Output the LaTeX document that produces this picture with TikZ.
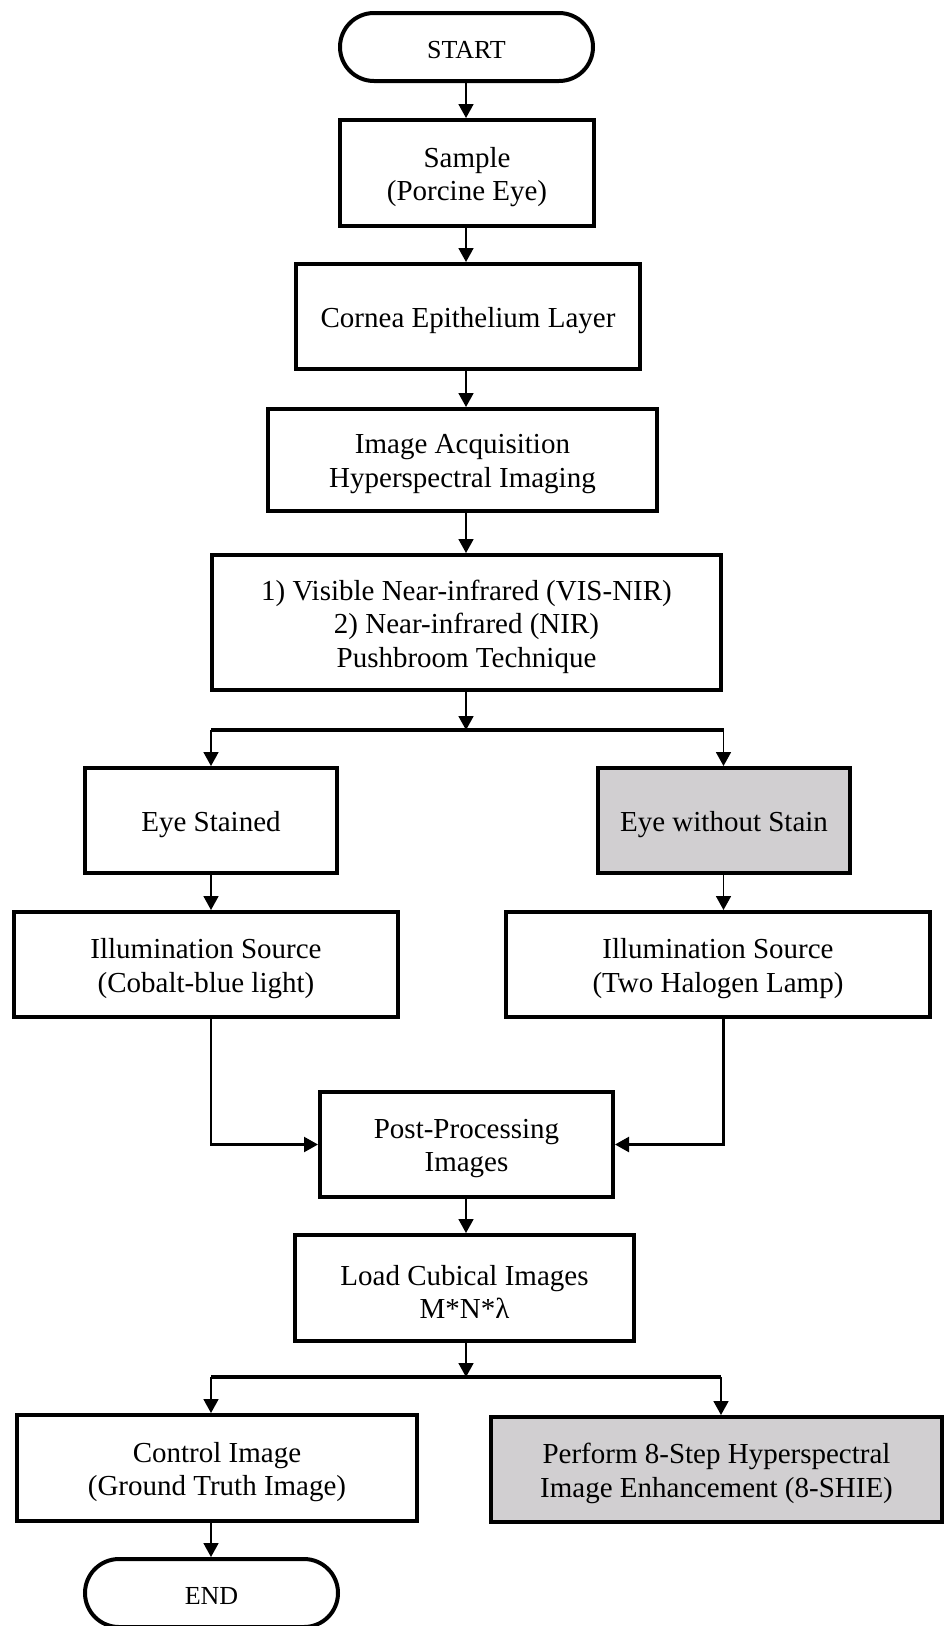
\documentclass[tikz,border=0pt]{standalone}
\usepackage{fontspec}
\setmainfont{Liberation Serif}
\usetikzlibrary{arrows.meta}
\definecolor{boxgray}{RGB}{209,207,209}
\begin{document}
\begin{tikzpicture}[x=1pt,y=-1pt,
  box/.style={draw, line width=4pt, inner sep=0pt},
  txt/.style={align=center, inner sep=0pt, font=\fontsize{29}{33.5}\selectfont},
  ttxt/.style={inner sep=0pt, font=\fontsize{26}{30}\selectfont},
  term/.style={draw, line width=4pt, rounded corners=34pt, inner sep=0pt, minimum width=253pt, minimum height=68pt},
  arr/.style={line width=1.8pt, -{Triangle[length=14pt,width=15pt]}},
  elbow/.style={line width=2.3pt, -{Triangle[length=14pt,width=15pt]}},
  bar/.style={line width=3.3pt}]
\useasboundingbox (0,0) rectangle (944,1626);
% shapes
\node[term] (start) at (466.5,47) {};
\node[box, minimum width=254pt, minimum height=106pt] (sample) at (467,173) {};
\node[box, minimum width=344pt, minimum height=105pt] (cornea) at (468,316.5) {};
\node[box, minimum width=389pt, minimum height=102pt] (imgacq) at (462.5,460) {};
\node[box, minimum width=509pt, minimum height=135pt] (vis) at (466.5,622.5) {};
\node[box, minimum width=252pt, minimum height=105pt] (eyeS) at (211,820.5) {};
\node[box, fill=boxgray, minimum width=252pt, minimum height=105pt] (eyeW) at (724,820.5) {};
\node[box, minimum width=384pt, minimum height=105pt] (illL) at (206,964.5) {};
\node[box, minimum width=424pt, minimum height=105pt] (illR) at (718,964.5) {};
\node[box, minimum width=293pt, minimum height=105pt] (post) at (466.5,1144.5) {};
\node[box, minimum width=339pt, minimum height=106pt] (load) at (464.5,1288) {};
\node[box, minimum width=400pt, minimum height=106pt] (ctrl) at (217,1468) {};
\node[box, fill=boxgray, minimum width=451pt, minimum height=105pt] (perf) at (716.5,1469.5) {};
\node[term] (endn) at (211.5,1593) {};
% texts
\node[ttxt] (startT) at ([yshift=-3pt]start.center) {START};
\node[txt] (sampleT) at ([yshift=-4pt]sample.center) {Sample\\(Porcine Eye)};
\node[txt] (corneaT) at ([yshift=-4pt]cornea.center) {Cornea Epithelium Layer};
\node[txt] (imgacqT) at ([yshift=-4pt]imgacq.center) {Image Acquisition\\Hyperspectral Imaging};
\node[txt] (visT) at ([yshift=-4pt]vis.center) {1) Visible Near-infrared (VIS-NIR)\\2) Near-infrared (NIR)\\Pushbroom Technique};
\node[txt] (eyeST) at ([yshift=-4pt]eyeS.center) {Eye Stained};
\node[txt] (eyeWT) at ([yshift=-4pt]eyeW.center) {Eye without Stain};
\node[txt] (illLT) at ([yshift=-4pt]illL.center) {Illumination Source\\(Cobalt-blue light)};
\node[txt] (illRT) at ([yshift=-4pt]illR.center) {Illumination Source\\(Two Halogen Lamp)};
\node[txt] (postT) at ([yshift=-4pt]post.center) {Post-Processing\\Images};
\node[txt] (loadT) at ([yshift=-4pt]load.center) {Load Cubical Images\\M*N*λ};
\node[txt] (ctrlT) at ([yshift=-4pt]ctrl.center) {Control Image\\(Ground Truth Image)};
\node[txt] (perfT) at ([yshift=-4pt]perf.center) {Perform 8-Step Hyperspectral\\Image Enhancement (8-SHIE)};
\node[ttxt] (endT) at ([yshift=-3pt]endn.center) {END};
% connectors
\coordinate (cx) at (466,0);
\coordinate (split1) at (466,730);
\coordinate (s1L) at (211,730);
\coordinate (s1R) at (723.5,730);
\coordinate (split2) at (466,1377);
\coordinate (s2L) at (211,1377);
\coordinate (s2R) at (721,1377);
\draw[arr] (start.south -| cx) -- (sample.north -| cx);
\draw[arr] (sample.south -| cx) -- (cornea.north -| cx);
\draw[arr] (cornea.south -| cx) -- (imgacq.north -| cx);
\draw[arr] (imgacq.south -| cx) -- (vis.north -| cx);
\draw[arr] (vis.south -| cx) -- (split1);
\draw[bar] (s1L) -- (s1R);
\draw[arr] (s1L) -- (eyeS.north -| s1L);
\draw[arr] (s1R) -- (eyeW.north -| s1R);
\draw[arr] (eyeS.south -| s1L) -- (illL.north -| s1L);
\draw[arr] (eyeW.south -| s1R) -- (illR.north -| s1R);
\draw[elbow] (illL.south -| s1L) |- (post.west);
\draw[elbow] (illR.south -| s1R) |- (post.east);
\draw[arr] (post.south -| cx) -- (load.north -| cx);
\draw[arr] (load.south -| cx) -- (split2);
\draw[bar] (s2L) -- (s2R);
\draw[arr] (s2L) -- (ctrl.north -| s2L);
\draw[arr] (s2R) -- (perf.north -| s2R);
\draw[arr] (ctrl.south -| s2L) -- (endn.north -| s2L);
\end{tikzpicture}
\end{document}
